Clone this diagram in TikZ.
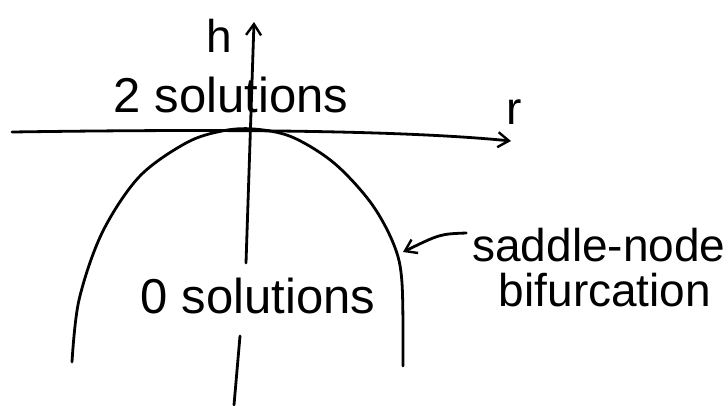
\documentclass[tikz,border=0pt]{standalone}
\usepackage{fontspec}
\setmainfont{Liberation Sans}
\usetikzlibrary{arrows.meta}
\begin{document}
\begin{tikzpicture}[x=1pt,y=-1pt,
  pen/.style={line width=2.8pt,line cap=round,line join=round},
  tip/.style={-{Straight Barb[length=11pt,width=15pt,line width=2.4pt]}},
  lab/.style={inner sep=0pt,font=\fontsize{46}{50}\selectfont},
  biglab/.style={inner sep=0pt,font=\fontsize{49}{54}\selectfont}]
\useasboundingbox (0,0) rectangle (728,405);
% axes
\coordinate (hbot) at (246,263);
\coordinate (htop) at (254,22);
\coordinate (hlow1) at (240,336);
\coordinate (hlow2) at (234,405);
\coordinate (rleft) at (12,132);
\coordinate (rright) at (511,141);
\draw[pen,tip] (hbot) -- (htop);
\draw[pen] (hlow1) -- (hlow2);
\draw[pen,tip] (rleft) .. controls (150,130) and (380,128) .. (rright);
% curve
\coordinate (ctarget) at (403,252);
\draw[pen] plot[smooth,tension=0.55] coordinates {(72,362) (79,300) (102,233) (139,177) (186,143) (222,131) (254,129) (292,137) (334,163) (371,203) (394,245) (402,283) (403,366)};
% labels
\node[lab] (h) at (219,36) {h};
\node[lab] (r) at (514,112) {r};
\node[biglab] (two) at (231,95) {2 solutions};
\node[biglab] (zero) at (258,296) {0 solutions};
\node[lab] (sn) at (599,245) {saddle-node};
\node[lab] (bif) at (605,290) {bifurcation};
\draw[pen,tip] (sn.west) ++(-6,-12) coordinate (sns) (sns) .. controls (440,234) .. (ctarget);
\end{tikzpicture}
\end{document}
